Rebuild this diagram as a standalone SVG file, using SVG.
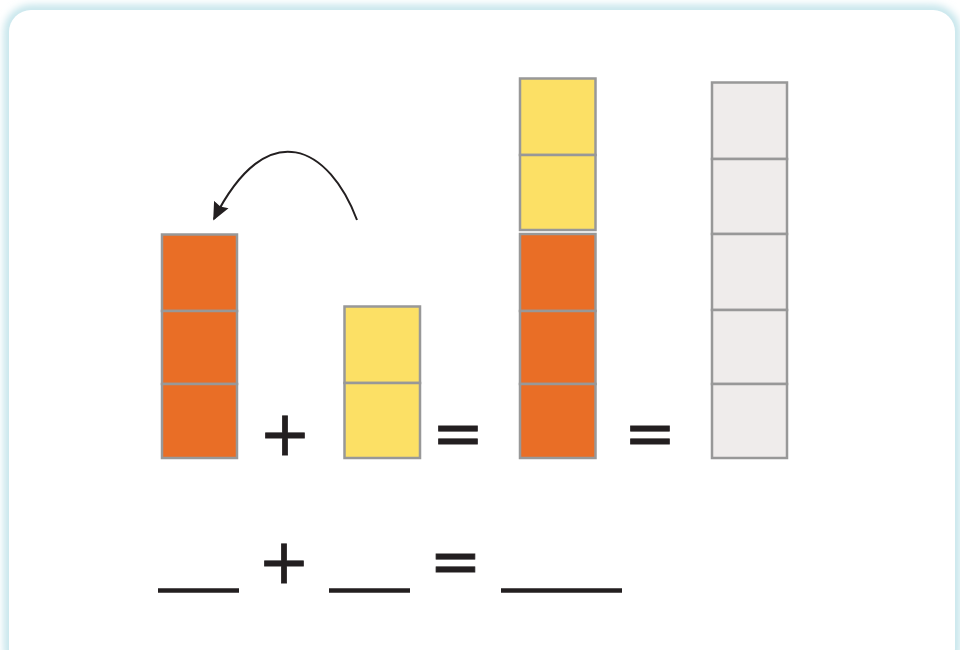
<svg xmlns="http://www.w3.org/2000/svg" width="960" height="650" viewBox="0 0 960 650">
  <defs>
    <filter id="glow" x="-5%" y="-5%" width="110%" height="110%">
      <feGaussianBlur stdDeviation="4"/>
    </filter>
    <marker id="arrow" viewBox="0 0 10 10" refX="9" refY="5" markerWidth="9" markerHeight="9" markerUnits="strokeWidth" orient="auto">
      <path d="M0,0.5 L10,5 L0,9.5 L1.2,5 Z" fill="#231f20"/>
    </marker>
    <style>
      .cell { stroke: #989898; stroke-width: 2.5; }
      .orange { fill: #e96e26; }
      .yellow { fill: #fce065; }
      .gray { fill: #efeceb; }
      .sym { font-family: "DejaVu Sans", sans-serif; font-size: 62px; fill: #231f20; stroke: #231f20; stroke-width: 0.8; text-anchor: middle; }
      .blank { stroke: #231f20; stroke-width: 4.5; }
    </style>
  </defs>

  <rect width="960" height="650" fill="#ffffff"/>
  <!-- frame -->
  <rect x="9" y="10" width="946" height="660" rx="22" fill="none" stroke="#b3dde5" stroke-width="8" filter="url(#glow)"/>
  <rect x="9" y="10" width="946" height="660" rx="22" fill="#ffffff"/>

  <g id="orange-stack">
    <rect class="cell orange" x="162" y="234.5" width="75" height="76.5"/>
    <rect class="cell orange" x="162" y="311" width="75" height="73"/>
    <rect class="cell orange" x="162" y="384" width="75" height="74"/>
  </g>

  <g id="yellow-stack">
    <rect class="cell yellow" x="344.5" y="306.5" width="75.5" height="76.5"/>
    <rect class="cell yellow" x="344.5" y="383" width="75.5" height="75"/>
  </g>

  <g id="combined-stack">
    <rect class="cell yellow" x="520" y="78.5" width="75.5" height="76.5"/>
    <rect class="cell yellow" x="520" y="155" width="75.5" height="75"/>
    <rect class="cell orange" x="520" y="234" width="75.5" height="77"/>
    <rect class="cell orange" x="520" y="311" width="75.5" height="73"/>
    <rect class="cell orange" x="520" y="384" width="75.5" height="74"/>
  </g>

  <g id="gray-stack">
    <rect class="cell gray" x="712" y="82.5" width="75" height="76.5"/>
    <rect class="cell gray" x="712" y="159" width="75" height="75"/>
    <rect class="cell gray" x="712" y="234" width="75" height="76"/>
    <rect class="cell gray" x="712" y="310" width="75" height="74"/>
    <rect class="cell gray" x="712" y="384" width="75" height="74"/>
  </g>

  <g id="connectors">
    <path d="M357,220 C330,148 268,112 214,219" fill="none" stroke="#231f20" stroke-width="2" marker-end="url(#arrow)"/>
  </g>

  <g id="top-equation">
    <text class="sym" x="285" y="455">+</text>
    <text class="sym" x="458" y="455">=</text>
    <text class="sym" x="650" y="455">=</text>
  </g>

  <g id="bottom-equation">
    <line class="blank" x1="158" y1="590.5" x2="239" y2="590.5"/>
    <text class="sym" x="284" y="583">+</text>
    <line class="blank" x1="329" y1="590.5" x2="410" y2="590.5"/>
    <text class="sym" x="455.5" y="583">=</text>
    <line class="blank" x1="501" y1="590.5" x2="622" y2="590.5"/>
  </g>
</svg>
